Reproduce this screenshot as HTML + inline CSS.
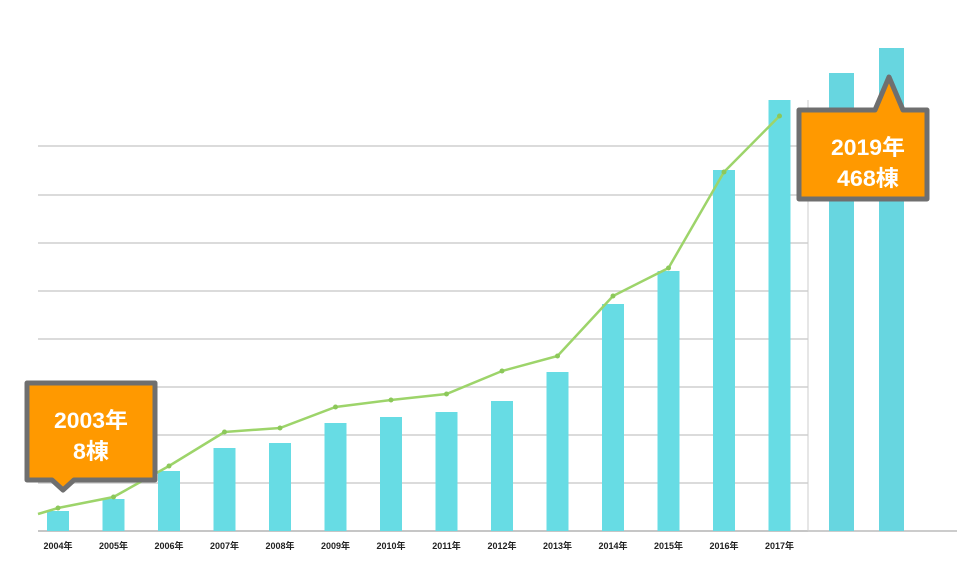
<!DOCTYPE html>
<html><head><meta charset="utf-8"><style>
body{margin:0;background:#fff;width:957px;height:565px;overflow:hidden}
svg{display:block}
text{font-family:"Liberation Sans","Noto Sans CJK JP",sans-serif}
</style></head><body>
<svg id="c" width="957" height="565">
<g id="grid"></g><g id="bars"></g><g id="line"></g><g id="labels"></g><g id="callouts"></g>
</svg>
<script>
const categories=["2004年","2005年","2006年","2007年","2008年","2009年","2010年","2011年","2012年","2013年","2014年","2015年","2016年","2017年"];
const barValues=[20,32,60,83,88,108,114,119,130,159,227,260,361,431];
const lineValues=[23,34,65,99,103,124,131,137,160,175,235,263,359,415];
const extraBarValues=[458,483];
const gridValues=[0,48,96,144,192,240,288,336,385];
const NS="http://www.w3.org/2000/svg";
const baseY=531, x0=58, step=55.5;
const xS=i=>x0+i*step;
const yS=v=>baseY-v;
function mk(t,a,p){const e=document.createElementNS(NS,t);for(const k in a)e.setAttribute(k,a[k]);p.appendChild(e);return e;}
const grid=document.getElementById('grid');
gridValues.forEach(v=>{const l=mk('line',{x1:38,x2:808,y1:yS(v),y2:yS(v),stroke:'#cfcfcf','stroke-width':1.5},grid);

});
const ax=mk('line',{x1:38,x2:957,y1:baseY,y2:baseY,stroke:'#bbb','stroke-width':1.5},grid);


const ra=mk('line',{x1:808,x2:808,y1:100,y2:baseY,stroke:'#ccc','stroke-width':1},grid);


const bars=document.getElementById('bars');
barValues.forEach((v,i)=>{const r=mk('rect',{x:xS(i)-11,y:yS(v),width:22,height:v,fill:'#67dce4'},bars);

});
extraBarValues.forEach((v,i)=>{const r=mk('rect',{x:829+i*50,y:yS(v),width:25,height:v,fill:'#67d6e0'},bars);

});
const lg=document.getElementById('line');
let pts=[[38,yS(17)]].concat(lineValues.map((v,i)=>[xS(i),yS(v)]));
const pl=mk('polyline',{points:pts.map(p=>p.join(',')).join(' '),fill:'none',stroke:'#9dd46a','stroke-width':2.5},lg);


lineValues.forEach((v,i)=>{const c=mk('circle',{cx:xS(i),cy:yS(v),r:2.5,fill:'#8cc85a'},lg);

});
const lb=document.getElementById('labels');
categories.forEach((c,i)=>{const t=mk('text',{x:xS(i),y:549,'text-anchor':'middle','font-size':9,'font-weight':'600',fill:'#222'},lb);t.textContent=c;

});
</script>
<svg style="position:absolute;left:0;top:0" width="957" height="565">
<g>
<path d="M27,383 H155 V480 H74 L63,490 L52,480 H27 Z" fill="#ff9900" stroke="#6f6f6f" stroke-width="5" stroke-linejoin="round"/>
<text x="91" y="428" text-anchor="middle" font-size="22" font-weight="bold" fill="#fff" textLength="74" lengthAdjust="spacingAndGlyphs" font-family="Liberation Sans,Noto Sans CJK JP,sans-serif">2003年</text>
<text x="91" y="459" text-anchor="middle" font-size="22" font-weight="bold" fill="#fff" textLength="36" lengthAdjust="spacingAndGlyphs" font-family="Liberation Sans,Noto Sans CJK JP,sans-serif">8棟</text>
</g>
<g>
<path d="M799,110 H875 L889,77 L903,110 H927 V199 H799 Z" fill="#ff9900" stroke="#6f6f6f" stroke-width="5" stroke-linejoin="round"/>
<text x="868" y="155" text-anchor="middle" font-size="22" font-weight="bold" fill="#fff" textLength="74" lengthAdjust="spacingAndGlyphs" font-family="Liberation Sans,Noto Sans CJK JP,sans-serif">2019年</text>
<text x="868" y="186" text-anchor="middle" font-size="22" font-weight="bold" fill="#fff" textLength="62" lengthAdjust="spacingAndGlyphs" font-family="Liberation Sans,Noto Sans CJK JP,sans-serif">468棟</text>
</g>
</svg>
</body></html>
